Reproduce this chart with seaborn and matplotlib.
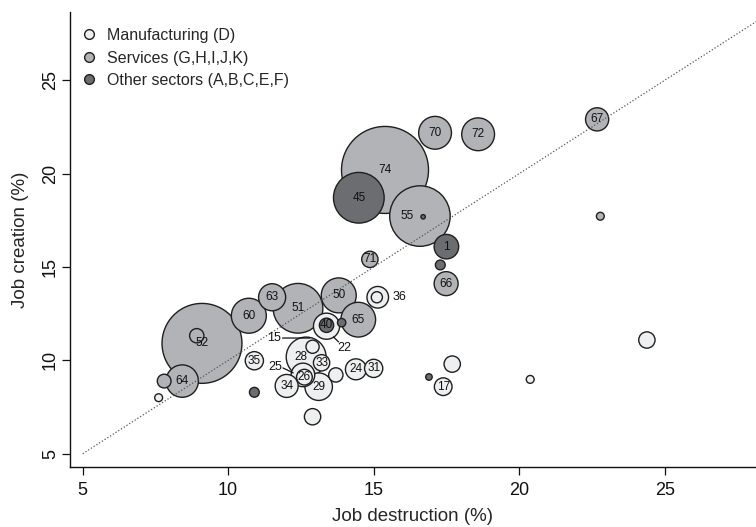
import matplotlib
matplotlib.use("Agg")
import matplotlib.pyplot as plt
from matplotlib.lines import Line2D
from matplotlib.transforms import ScaledTranslation
import seaborn as sns
import pandas as pd

# ---------------- data ----------------
sectors = ["Manufacturing (D)", "Services (G,H,I,J,K)", "Other sectors (A,B,C,E,F)"]

mfg_destr = [13.38, 12.68, 12.90, 13.21, 12.57, 12.62, 12.01, 13.11, 13.70, 14.39, 15.00,
             10.90, 12.90, 17.70, 17.39, 20.38, 24.39, 15.14, 15.11, 7.61]
mfg_creat = [11.83, 10.18, 10.73, 9.87, 9.22, 9.10, 8.63, 8.59, 9.22, 9.52, 9.57,
             9.98, 6.98, 9.80, 8.59, 8.98, 11.09, 13.38, 13.38, 8.00]
mfg_empl = [17.7, 41.2, 4.5, 6.9, 14.4, 6.4, 13.7, 19.6, 5.3, 11.4, 8.6,
            8.6, 6.9, 6.9, 8.1, 1.6, 6.9, 12.1, 3.2, 1.6]
mfg_label = ["22", "28", "15", "33", "25", "26", "34", "29", "", "24", "31",
             "35", "", "", "17", "", "", "36", "", ""]

srv_destr = [15.39, 9.10, 16.59, 12.40, 10.71, 13.80, 14.47, 17.11, 18.59, 8.42, 11.51,
             17.49, 22.68, 14.87, 7.80, 8.92, 22.79]
srv_creat = [20.20, 10.91, 17.73, 12.79, 12.39, 13.48, 12.18, 22.19, 22.11, 8.89, 13.38,
             14.11, 22.91, 15.41, 8.89, 11.32, 17.72]
srv_empl = [196.2, 165.6, 94.9, 64.0, 31.7, 31.7, 31.3, 27.9, 27.9, 27.2, 19.0,
            14.9, 13.9, 6.9, 4.9, 5.3, 1.6]
srv_label = ["74", "52", "55", "51", "60", "50", "65", "70", "72", "64", "63",
             "66", "67", "71", "", "", ""]

oth_destr = [14.49, 17.50, 13.38, 17.29, 13.90, 10.90, 16.90, 16.70]
oth_creat = [18.71, 16.09, 11.88, 15.11, 12.02, 8.29, 9.11, 17.69]
oth_empl = [66.6, 15.6, 5.3, 2.5, 1.8, 2.5, 1.1, 0.5]
oth_label = ["45", "1", "40", "", "", "", "", ""]

x_ticks = [5, 10, 15, 20, 25]
y_ticks = [5, 10, 15, 20, 25]

# ---------------- frame ----------------
df = pd.concat([
    pd.DataFrame({"destr": mfg_destr, "creat": mfg_creat, "empl": mfg_empl,
                  "label": mfg_label, "sector": sectors[0]}),
    pd.DataFrame({"destr": srv_destr, "creat": srv_creat, "empl": srv_empl,
                  "label": srv_label, "sector": sectors[1]}),
    pd.DataFrame({"destr": oth_destr, "creat": oth_creat, "empl": oth_empl,
                  "label": oth_label, "sector": sectors[2]}),
], ignore_index=True)
df = df.sort_values("empl", ascending=False, kind="stable").reset_index(drop=True)

colors = {sectors[0]: "#eeeff0", sectors[1]: "#b2b3b6", sectors[2]: "#6c6d71"}
edge = "#1f1f1f"

sns.set_style("ticks")
plt.rcParams["font.family"] = ["Liberation Sans", "DejaVu Sans"]

W, H = 756, 527
fig = plt.figure(figsize=(W / 100, H / 100), dpi=100)
ax = fig.add_axes([70 / W, 1 - 467 / H, 686 / W, 455 / H])

wmax = max(df["empl"])
k = 20.0
sns.scatterplot(data=df, x="destr", y="creat", hue="sector", size="empl",
                sizes=(0, wmax * k), size_norm=(0, wmax), palette=colors,
                edgecolor=edge, linewidth=1.0, alpha=1, legend=False, ax=ax, zorder=2)

# diagonal 45-degree line
ax.plot([5, 30], [5, 30], linestyle=(0, (1, 1.6)), color="#555555", lw=0.9, zorder=3)

ax.set_xlim(4.564, 28.14)
ax.set_ylim(4.288, 28.66)

# bubble labels: (text offset px, leader line px or None, font size)
special = {
    "15": ((-38.7, 8.4), ((-30.0, 8.7), (-2.7, 8.7)), 9),
    "22": ((18.0, -22.0), ((7.0, -10.7), (12.0, -15.7)), 9),
    "25": ((-28.0, 8.3), ((-20.0, 7.0), (-9.7, 2.0)), 9),
    "36": ((21.3, 0.0), None, 9),
    "55": ((-13.0, 0.0), None, 8.5),
    "28": ((-5.0, 0.0), None, 8.5),
}

def shifted(dx, dy):
    return ax.transData + ScaledTranslation(dx / 100, dy / 100, fig.dpi_scale_trans)

for _, r in df.iterrows():
    lab = r["label"]
    if not lab:
        continue
    if lab in special:
        (tdx, tdy), line, fs = special[lab]
        ax.text(r["destr"], r["creat"], lab, transform=shifted(tdx, tdy),
                ha="center", va="center", fontsize=fs, color="#111111", zorder=4)
        if line is not None:
            (ax0, ay0), (ax1, ay1) = line
            ax.annotate("", xy=(r["destr"], r["creat"]), xycoords=shifted(ax1, ay1),
                        xytext=(r["destr"], r["creat"]), textcoords=shifted(ax0, ay0),
                        arrowprops=dict(arrowstyle="-", shrinkA=0, shrinkB=0,
                                        lw=0.9, color="#111111"), zorder=4)
    else:
        ax.text(r["destr"], r["creat"], lab, ha="center", va="center",
                fontsize=8.5, color="#111111", zorder=4)

# axes styling
for s in ["top", "right"]:
    ax.spines[s].set_visible(False)
for s in ["left", "bottom"]:
    ax.spines[s].set_linewidth(1.0)
    ax.spines[s].set_color("#111111")
ax.set_xticks(x_ticks)
ax.set_yticks(y_ticks)
ax.tick_params(axis="both", direction="out", length=6, width=0.9, colors="#111111",
               labelsize=13)
ax.tick_params(axis="y", pad=2)
ax.tick_params(axis="x", pad=5)
for lbl in ax.get_yticklabels():
    lbl.set_rotation(90)
    lbl.set_va("center")
ax.set_xlabel("Job destruction (%)", fontsize=13.5, labelpad=6)
ax.set_ylabel("Job creation (%)", fontsize=13.5, labelpad=9)

# legend
handles = [Line2D([], [], marker="o", linestyle="", markersize=7,
                  markerfacecolor=colors[s], markeredgecolor=edge, markeredgewidth=1.0)
           for s in sectors]
ax.legend(handles, sectors, loc="upper left", bbox_to_anchor=(81 / W, 1 - 28 / H),
          bbox_transform=fig.transFigure, frameon=False, fontsize=11.5,
          handlelength=1.0, handletextpad=0.6, labelspacing=0.47,
          borderpad=0, borderaxespad=0)

fig.savefig("out.png", dpi=100)
